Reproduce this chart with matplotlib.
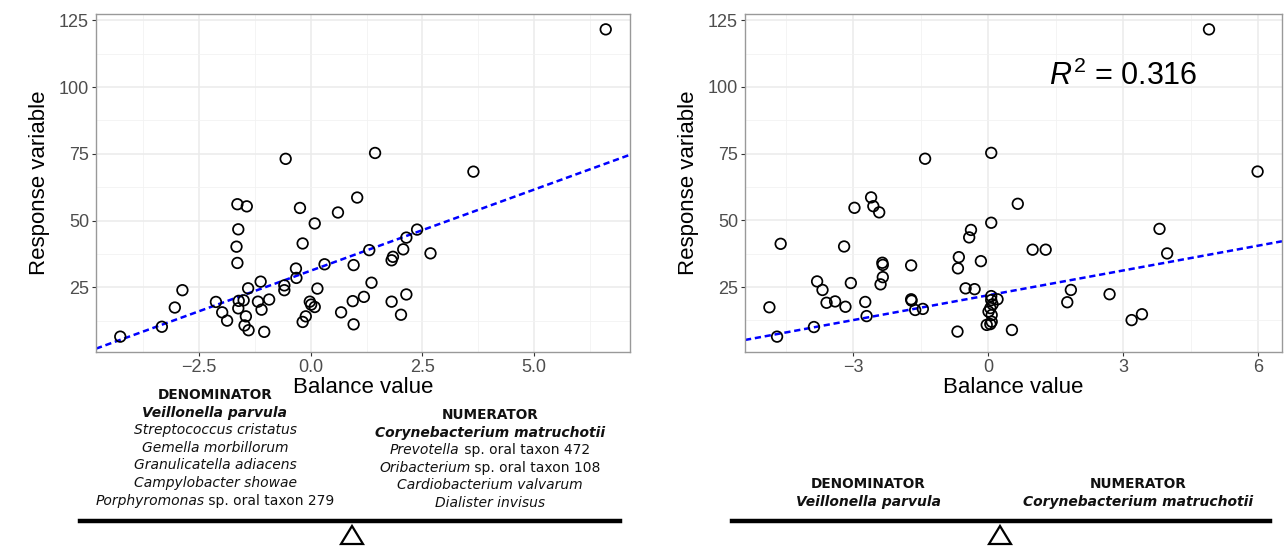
import numpy as np
import matplotlib
matplotlib.use("Agg")
import matplotlib.pyplot as plt
from matplotlib.lines import Line2D
from matplotlib.patches import Polygon

plt.rcParams['font.family'] = ['Liberation Sans', 'DejaVu Sans']
plt.rcParams['mathtext.fontset'] = 'custom'
plt.rcParams['mathtext.rm'] = 'Liberation Sans'
plt.rcParams['mathtext.it'] = 'Liberation Sans:italic'

# response values (same in both panels)
left_x = [-4.26, -3.33, -3.04, -2.87, -2.12, -1.98, -1.87, -1.64, -1.43, -1.62,
          -1.66, -1.64, -1.61, -1.62, -1.50, -1.40, -1.45, -1.48, -1.39, -1.12,
          -1.18, -1.10, -0.93, -1.04, -0.59, -0.59, -0.24, -0.18, -0.33, -0.32,
          0.09, 0.31, 0.15, -0.02, 0.01, 0.09, -0.11, -0.18, 1.04, 0.61,
          0.68, 0.94, 0.96, 0.96, 1.19, 1.31, 1.36, 1.81, 1.84, 1.81,
          2.02, 2.07, 2.14, 2.14, 2.38, 2.68, 1.44, 3.64, 6.60, -0.56]
left_y = [6.5, 10.2, 17.4, 23.9, 19.5, 15.6, 12.5, 56.1, 55.3, 46.7,
          40.2, 34.1, 19.9, 17.1, 20.1, 24.6, 14.1, 10.7, 8.9, 27.1,
          19.6, 16.6, 20.4, 8.3, 25.7, 23.9, 54.7, 41.4, 32.0, 28.5,
          48.9, 33.6, 24.5, 19.6, 18.5, 17.6, 14.1, 12.0, 58.6, 53.0,
          15.6, 19.8, 33.3, 11.1, 21.4, 38.9, 26.7, 35.1, 36.4, 19.6,
          14.7, 39.2, 43.6, 22.3, 46.6, 37.7, 75.3, 68.3, 121.6, 73.1]

right_x = [-4.86, -4.69, -4.61, -3.87, -3.80, -3.68, -3.59, -3.40, -3.17, -3.20,
           -3.05, -2.97, -2.73, -2.70, -2.60, -2.55, -2.42, -2.35, -2.34, -2.34,
           -2.39, -1.71, -1.71, -1.70, -1.62, -1.45, -0.68, -0.65, -0.67, -0.50,
           -0.30, -0.42, -0.38, -0.16, 0.07, 0.66, 0.07, 0.07, 0.21, 0.01,
           0.08, 0.08, -0.03, 0.05, 0.53, 0.99, 1.28, 1.84, 1.76, 2.70,
           3.19, 3.42, 3.81, 3.98, 0.07, 4.91, 5.99, -1.40, 0.05, 0.10]
right_y = [17.4, 6.4, 41.2, 10.0, 27.1, 23.9, 19.1, 19.6, 17.6, 40.2,
           26.5, 54.7, 19.4, 14.1, 58.6, 55.3, 53.0, 34.1, 33.3, 28.7,
           26.0, 33.1, 20.4, 19.9, 16.4, 16.8, 8.3, 36.2, 32.0, 24.5,
           24.2, 43.6, 46.4, 34.7, 49.1, 56.2, 21.6, 20.1, 20.4, 15.8,
           14.5, 12.0, 10.8, 11.1, 8.9, 39.0, 39.0, 23.9, 19.3, 22.3,
           12.6, 14.8, 46.8, 37.6, 75.3, 121.6, 68.3, 73.1, 17.1, 18.5]

# fitted lines as drawn in the picture (slope, intercept)
left_fit = (6.08, 31.2)
right_fit = (3.10, 21.9)

left_xticks = [-2.5, 0.0, 2.5, 5.0]
left_xlabels = ['\u22122.5', '0.0', '2.5', '5.0']
right_xticks = [-3, 0, 3, 6]
right_xlabels = ['\u22123', '0', '3', '6']
yticks = [25, 50, 75, 100, 125]
r2_text = r'$R^2$ = 0.316'

denom_full = [[('Veillonella parvula', 'italic', 'bold')],
              [('Streptococcus cristatus', 'italic', 'normal')],
              [('Gemella morbillorum', 'italic', 'normal')],
              [('Granulicatella adiacens', 'italic', 'normal')],
              [('Campylobacter showae', 'italic', 'normal')],
              [('Porphyromonas', 'italic', 'normal'), (' sp. oral taxon 279', 'normal', 'normal')]]
numer_full = [[('Corynebacterium matruchotii', 'italic', 'bold')],
              [('Prevotella', 'italic', 'normal'), (' sp. oral taxon 472', 'normal', 'normal')],
              [('Oribacterium', 'italic', 'normal'), (' sp. oral taxon 108', 'normal', 'normal')],
              [('Cardiobacterium valvarum', 'italic', 'normal')],
              [('Dialister invisus', 'italic', 'normal')]]

W, H = 1286, 546
fig = plt.figure(figsize=(W / 100, H / 100), dpi=100)

def px_box(x0, y0, x1, y1):
    return [x0 / W, 1 - y1 / H, (x1 - x0) / W, (y1 - y0) / H]

def expand(v):
    lo, hi = min(v), max(v)
    d = (hi - lo) * 0.05
    return lo - d, hi + d

def panel(box, xs, ys, xt, xl, xminor, fit):
    ax = fig.add_axes(box)
    ax.set_xlim(expand(xs))
    ax.set_ylim(expand(ys))
    ax.set_xticks(xt)
    ax.set_xticklabels(xl)
    ax.set_yticks(yticks)
    ax.set_xticks(xminor, minor=True)
    ax.set_yticks([12.5, 37.5, 62.5, 87.5, 112.5], minor=True)
    ax.grid(True, which='major', color='#EBEBEB', lw=1.1)
    ax.grid(True, which='minor', color='#F2F2F2', lw=0.6)
    ax.tick_params(which='minor', length=0)
    ax.tick_params(which='major', length=3, width=0.8, color='#333333',
                   labelsize=13, labelcolor='#4D4D4D', pad=2)
    ax.set_axisbelow(True)
    for s in ax.spines.values():
        s.set_color('#999999')
        s.set_linewidth(1.0)
    ax.scatter(xs, ys, s=58, facecolors='none', edgecolors='black', linewidths=1.25, zorder=3)
    k, b = fit
    xx = np.array(ax.get_xlim())
    ax.plot(xx, k * xx + b, color='#0000FF', lw=1.8, ls=(0, (2.5, 1.5)), zorder=2)
    ax.set_xlim(xx)
    ax.set_xlabel('Balance value', fontsize=16, labelpad=1)
    ax.set_ylabel('Response variable', fontsize=16, labelpad=6)
    return ax

axl = panel(px_box(96, 14, 630, 352), left_x, left_y, left_xticks, left_xlabels,
            [-3.75, -1.25, 1.25, 3.75, 6.25], left_fit)
axr = panel(px_box(745, 14, 1282, 352), right_x, right_y, right_xticks, right_xlabels,
            [-4.5, -1.5, 1.5, 4.5], right_fit)
axr.text(3.0, 104, r2_text, fontsize=22, ha='center', va='center')

renderer = fig.canvas.get_renderer()

def line_of(parts, xc, yc, size=10):
    texts = []
    for s, st, wt in parts:
        t = fig.text(0, 1 - yc / H, s, fontsize=size, fontstyle=st, fontweight=wt,
                     family='DejaVu Sans', va='center', ha='left', color='#111111')
        texts.append(t)
    widths = [t.get_window_extent(renderer).width for t in texts]
    x = xc - sum(widths) / 2
    for t, w in zip(texts, widths):
        t.set_x(x / W)
        x += w

def block(title, rows, xc, y0, step=17.6):
    line_of([(title, 'normal', 'bold')], xc, y0, size=9.8)
    for i, r in enumerate(rows):
        line_of(r, xc, y0 + step * (i + 1))

def balance(x0, x1, xf, y=521):
    fig.add_artist(Line2D([x0 / W, x1 / W], [1 - y / H, 1 - y / H], color='black', lw=3.2))
    tri = Polygon([(xf / W, 1 - (y + 5) / H), ((xf - 11) / W, 1 - 544 / H), ((xf + 11) / W, 1 - 544 / H)],
                  closed=True, fill=False, edgecolor='black', lw=1.6, transform=fig.transFigure)
    fig.add_artist(tri)

block('DENOMINATOR', denom_full, 215, 395)
block('NUMERATOR', numer_full, 490, 415)
balance(80, 620, 352)

block('DENOMINATOR', denom_full[:1], 868, 484)
block('NUMERATOR', numer_full[:1], 1138, 484)
balance(732, 1270, 1000)

fig.savefig('out.png', dpi=100)
